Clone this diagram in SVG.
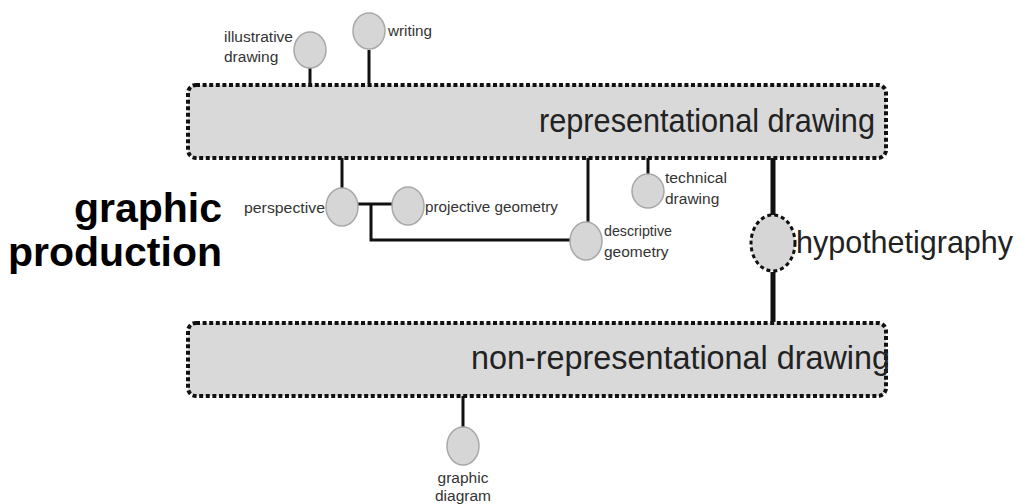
<svg xmlns="http://www.w3.org/2000/svg" width="1025" height="504" viewBox="0 0 1025 504">
<style>
.box{fill:#d9d9d9;stroke:#111;stroke-width:4;stroke-dasharray:4 2.6}
.c{fill:#d6d6d6;stroke:#a8a8a8;stroke-width:1.5}
.hc{fill:#d6d6d6;stroke:#111;stroke-width:3;stroke-dasharray:4 3}
.ln{stroke:#111;stroke-width:3;fill:none}
.thk{stroke:#111;stroke-width:5;fill:none}
.s{font-family:"Liberation Sans",Arial,sans-serif;font-size:15.5px;fill:#333}
.big{font-family:"Liberation Sans",Arial,sans-serif;font-size:33px;fill:#222}
.title{font-family:"Liberation Sans",Arial,sans-serif;font-size:41px;font-weight:bold;fill:#000}
</style>
<rect width="1025" height="504" fill="#fff"/>
<g id="connectors">
<line class="ln" x1="310" y1="68" x2="310" y2="84"/>
<line class="ln" x1="369" y1="50" x2="369" y2="84"/>
<line class="ln" x1="342" y1="158" x2="342" y2="188"/>
<line class="ln" x1="358" y1="204" x2="393" y2="204"/>
<polyline class="ln" points="371,204 371,240 571,240"/>
<line class="ln" x1="588" y1="158" x2="588" y2="222"/>
<line class="ln" x1="648" y1="158" x2="648" y2="175"/>
<line class="thk" x1="773" y1="158" x2="773" y2="215"/>
<line class="thk" x1="773" y1="272" x2="773" y2="322"/>
<line class="ln" x1="463" y1="396" x2="463" y2="428"/>
</g>
<g id="title">
<text class="title" x="222" y="222" text-anchor="end">graphic</text>
<text class="title" x="222" y="266" text-anchor="end">production</text>
</g>
<g id="representational-drawing">
<rect class="box" x="188" y="85" width="698" height="73" rx="8"/>
<text class="big" x="539" y="132" textLength="336" lengthAdjust="spacingAndGlyphs">representational drawing</text>
</g>
<g id="non-representational-drawing">
<rect class="box" x="188" y="323" width="698" height="73" rx="8"/>
<text class="big" x="471" y="369" textLength="419" lengthAdjust="spacingAndGlyphs">non-representational drawing</text>
</g>
<g id="illustrative-drawing">
<ellipse class="c" cx="310" cy="50" rx="16" ry="18"/>
<text class="s" x="224" y="42" textLength="69" lengthAdjust="spacingAndGlyphs">illustrative</text>
<text class="s" x="224" y="62">drawing</text>
</g>
<g id="writing">
<ellipse class="c" cx="369" cy="31" rx="16" ry="18"/>
<text class="s" x="388" y="36" textLength="44" lengthAdjust="spacingAndGlyphs">writing</text>
</g>
<g id="perspective">
<ellipse class="c" cx="342" cy="207" rx="16" ry="19"/>
<text class="s" x="244" y="213" textLength="81" lengthAdjust="spacingAndGlyphs">perspective</text>
</g>
<g id="projective-geometry">
<ellipse class="c" cx="408" cy="206" rx="16" ry="19"/>
<text class="s" x="425" y="212" textLength="133" lengthAdjust="spacingAndGlyphs">projective geometry</text>
</g>
<g id="descriptive-geometry">
<ellipse class="c" cx="586" cy="241" rx="16" ry="19"/>
<text class="s" x="604" y="236" textLength="68" lengthAdjust="spacingAndGlyphs">descriptive</text>
<text class="s" x="604" y="257">geometry</text>
</g>
<g id="technical-drawing">
<ellipse class="c" cx="648" cy="191" rx="16" ry="17"/>
<text class="s" x="665" y="183" textLength="62" lengthAdjust="spacingAndGlyphs">technical</text>
<text class="s" x="665" y="204">drawing</text>
</g>
<g id="hypothetigraphy">
<ellipse class="hc" cx="773" cy="243" rx="22" ry="28"/>
<text class="big" x="796" y="253" style="font-size:30.5px">hypothetigraphy</text>
</g>
<g id="graphic-diagram">
<ellipse class="c" cx="463" cy="446" rx="16" ry="19"/>
<text class="s" x="463" y="483" text-anchor="middle">graphic</text>
<text class="s" x="463" y="501" text-anchor="middle">diagram</text>
</g>
</svg>
